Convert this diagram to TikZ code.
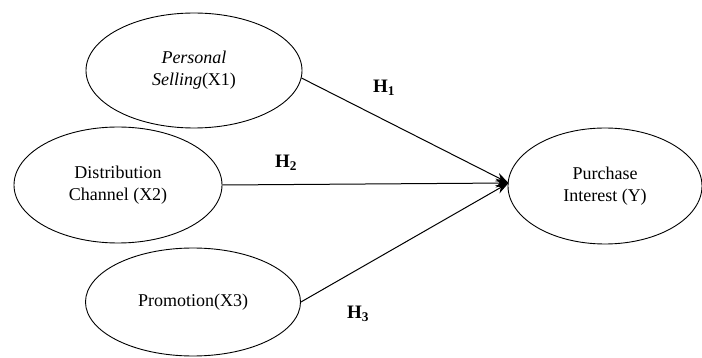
\documentclass[tikz,border=0pt]{standalone}
\usepackage{fontspec}
\setmainfont{Liberation Serif}
\usetikzlibrary{arrows.meta,shapes.geometric}
\begin{document}
\begin{tikzpicture}[x=1pt,y=-1pt,
  ell/.style={draw,ellipse,line width=0.9pt,inner sep=0pt,align=center,
    font=\fontsize{18}{22}\selectfont},
  conn/.style={line width=1pt,-{Stealth[length=13pt,width=9pt]}},
  hlab/.style={font=\fontsize{19}{22}\selectfont\bfseries}]
\useasboundingbox (0,0) rectangle (702,358);
\node[ell,minimum width=216pt,minimum height=115pt] (E1) at (194,70.5) {\textit{Personal}\\\textit{Selling}(X1)};
\node[ell,minimum width=208pt,minimum height=116pt] (E2) at (118,185) {Distribution\\Channel (X2)};
\node[ell,minimum width=215pt,minimum height=108pt] (E3) at (193,302) {Promotion(X3)};
\node[ell,minimum width=194pt,minimum height=116pt] (EY) at (605,186) {Purchase\\Interest (Y)};
\coordinate (T) at ([xshift=1pt,yshift=3pt]EY.west);
\draw[conn] (E1.-4) -- (T);
\draw[conn] (E2.east) -- (T);
\draw[conn] (E3.east) -- (T);
\node[hlab] (H1) at (384,88) {H$_{\mathbf{1}}$};
\node[hlab] (H2) at (286,163) {H$_{\mathbf{2}}$};
\node[hlab] (H3) at (358,314) {H$_{\mathbf{3}}$};
\end{tikzpicture}
\end{document}
